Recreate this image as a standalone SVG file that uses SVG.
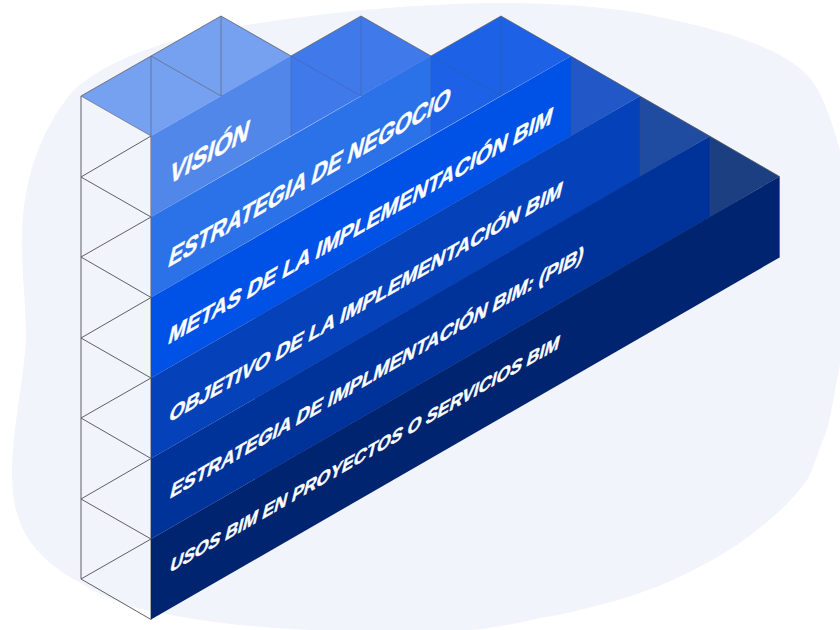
<svg xmlns="http://www.w3.org/2000/svg" width="840" height="630" viewBox="0 0 840 630">
<style>
.lbl{font-family:"Liberation Sans",Arial,sans-serif;font-weight:700;fill:#fff;stroke:#fff;stroke-width:.5}
.wire{fill:none;stroke:#5f5f66;stroke-width:1}
.in{fill:none;stroke:#3d4f7a;stroke-opacity:.3;stroke-width:1}
</style>
<rect width="840" height="630" fill="#fff"/>
<path id="blob" fill="#f1f4fb" d="M22,233C24,170 45,125 72,92C110,55 190,32 260,23C340,10 440,2 517,3C570,4 610,8 640,13C680,21 715,29 740,38C770,49 790,58 807,75C822,90 832,122 840,150C852,230 848,330 837,380C832,405 830,425 823,440C818,452 813,470 807,480C793,500 775,516 757,530C730,552 702,566 673,580C650,590 630,597 607,603C585,609 560,615 540,618C500,628 450,634 400,634C370,634 340,632 310,630C260,628 200,622 151,611C120,605 100,595 81,583C55,570 35,552 25,533C15,515 12,495 12,473C12,430 24,380 26,338C26,300 21,270 22,233Z"/>
<g id="frame">
<path class="wire" d="M81,96V579L151,619.5V136L81,177L151,217L81,257L151,297.5L81,338L151,378L81,418L151,458.5L81,499L151,539L81,579"/>
</g>
<g id="tops">
<path fill="#76a0f0" d="M81,96L221,16L291,56L151,136Z"/>
<path fill="#4079e9" d="M221,96L361,16L431,56L291,136Z"/>
<path fill="#1d62e6" d="M361,96L501,16L571,56L431,136Z"/>
<path fill="#2157c6" d="M571,56L640,96L571,136Z"/>
<path fill="#1f4ba0" d="M640,96L710,136L640,177Z"/>
<path fill="#1b3f80" d="M710,136L779.5,176.5L710,217Z"/>
</g>
<g id="layer1"><path fill="#5287ea" d="M151,136L291,56V136L151,217Z"/><text class="lbl" font-size="27" transform="matrix(.866 -.5 -.25 1.1 168 185)">VISIÓN</text></g>
<g id="layer2"><path fill="#2b71e8" d="M151,217L431,56V136L151,297.5Z"/><text class="lbl" font-size="25" transform="matrix(.866 -.5 -.27 1.13 167 268)">ESTRATEGIA DE NEGOCIO</text></g>
<g id="layer3"><path fill="#0052e6" d="M151,297.5L571,56V136L151,378Z"/><text class="lbl" font-size="24.5" transform="matrix(.866 -.5 -.24 1.03 167 345)">METAS DE LA IMPLEMENTACIÓN BIM</text></g>
<g id="layer4"><path fill="#0541b8" d="M151,378L640,96V177L151,458.5Z"/><text class="lbl" font-size="23" transform="matrix(.866 -.5 -.24 1 168 423)">OBJETIVO DE LA IMPLEMENTACIÓN BIM</text></g>
<g id="layer5"><path fill="#00339a" d="M151,458.5L710,136V217L151,539Z"/><text class="lbl" font-size="22" transform="matrix(.866 -.5 -.24 1 169 499)">ESTRATEGIA DE IMPLMENTACIÓN BIM: (PIB)</text></g>
<g id="layer6"><path fill="#00246f" d="M151,539L779.5,176.5V257.5L151,619.5Z"/><text class="lbl" font-size="20.4" transform="matrix(.866 -.5 -.24 1 169 573)">USOS BIM EN PROYECTOS O SERVICIOS BIM</text></g>
<g id="connectors">
<path class="wire" style="stroke-opacity:.6" d="M81,96L151,136M151,56L221,96M151,56V136M221,16V96"/>
<path class="in" d="M291,56V136M291,56L361,96M361,16V96M431,56V136M431,56L501,96M501,16V96M571,56V136M640,96V177M710,136V217"/>
<path class="wire" d="M81,96L221,16L291,56L361,16L431,56L501,16L779.5,176.5V257.5" style="stroke-opacity:.8"/>
</g>
</svg>
